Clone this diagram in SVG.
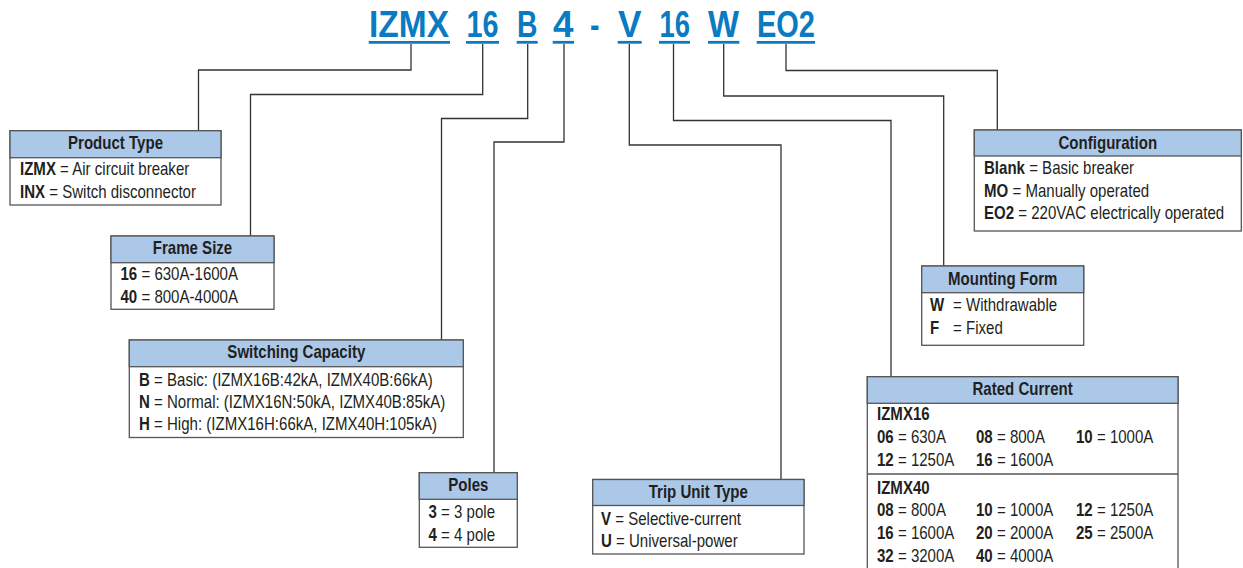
<svg xmlns="http://www.w3.org/2000/svg" width="1243" height="568" viewBox="0 0 1243 568">
<style>
.bg{fill:#ffffff}
.box{fill:#ffffff;stroke:#555555;stroke-width:1.3}
.hdr{fill:#abc8e8;stroke:#555555;stroke-width:1.3}
.div{stroke:#555555;stroke-width:1.3;fill:none}
.h{font-family:"Liberation Sans",Arial,sans-serif;font-size:17.5px;font-weight:bold;fill:#231f20}
.t{font-family:"Liberation Sans",Arial,sans-serif;font-size:17.5px;fill:#231f20}
.b{font-weight:bold}
.title{font-family:"Liberation Sans",Arial,sans-serif;font-size:37px;font-weight:bold;fill:#0a7bc2}
.ul{stroke:#0a7bc2;stroke-width:2.8}
.conn{fill:none;stroke:#333333;stroke-width:1.3}
</style>
<rect class="bg" x="0" y="0" width="1243" height="568"/>

<g id="title">
  <text class="title" x="369" y="37" textLength="80" lengthAdjust="spacingAndGlyphs">IZMX</text>
  <text class="title" x="466.5" y="37" textLength="32" lengthAdjust="spacingAndGlyphs">16</text>
  <text class="title" x="517" y="37" textLength="20.5" lengthAdjust="spacingAndGlyphs">B</text>
  <text class="title" x="553" y="37" textLength="20.5" lengthAdjust="spacingAndGlyphs">4</text>
  <text class="title" x="590" y="37" textLength="9.5" lengthAdjust="spacingAndGlyphs">-</text>
  <text class="title" x="618" y="37" textLength="23.5" lengthAdjust="spacingAndGlyphs">V</text>
  <text class="title" x="659.5" y="37" textLength="30.5" lengthAdjust="spacingAndGlyphs">16</text>
  <text class="title" x="708" y="37" textLength="31" lengthAdjust="spacingAndGlyphs">W</text>
  <text class="title" x="757" y="37" textLength="58" lengthAdjust="spacingAndGlyphs">EO2</text>
  <line class="ul" x1="368.7" y1="42.3" x2="450" y2="42.3"/>
  <line class="ul" x1="466" y1="42.3" x2="499" y2="42.3"/>
  <line class="ul" x1="516.7" y1="42.3" x2="537.7" y2="42.3"/>
  <line class="ul" x1="552.7" y1="42.3" x2="574" y2="42.3"/>
  <line class="ul" x1="617.7" y1="42.3" x2="641.7" y2="42.3"/>
  <line class="ul" x1="659" y1="42.3" x2="690" y2="42.3"/>
  <line class="ul" x1="708" y1="42.3" x2="739.3" y2="42.3"/>
  <line class="ul" x1="756.7" y1="42.3" x2="815" y2="42.3"/>
</g>

<g id="connectors">
  <path class="conn" d="M411,44 V70 H198.5 V130.7"/>
  <path class="conn" d="M482.7,44 V94.5 H250.5 V236"/>
  <path class="conn" d="M527.7,44 V118.5 H441.5 V340"/>
  <path class="conn" d="M564,44 V142 H494 V472.7"/>
  <path class="conn" d="M629.3,44 V145 H781 V479.5"/>
  <path class="conn" d="M673.5,44 V120.5 H891 V376.7"/>
  <path class="conn" d="M723.7,44 V96 H943.7 V266"/>
  <path class="conn" d="M786,44 V70.5 H997.3 V130"/>
</g>

<g id="product-type">
  <rect class="box" x="10" y="130.7" width="211" height="74.3"/>
  <rect class="hdr" x="10" y="130.7" width="211" height="27"/>
  <text class="h" text-anchor="middle" transform="translate(115.5,149.3) scale(0.86,1)">Product Type</text>
  <text class="t" transform="translate(20,175) scale(0.86,1)"><tspan class="b">IZMX</tspan> = Air circuit breaker</text>
  <text class="t" transform="translate(20,197.5) scale(0.86,1)"><tspan class="b">INX</tspan> = Switch disconnector</text>
</g>

<g id="frame-size">
  <rect class="box" x="111" y="236" width="163" height="73.3"/>
  <rect class="hdr" x="111" y="236" width="163" height="26.7"/>
  <text class="h" text-anchor="middle" transform="translate(192.5,253.5) scale(0.86,1)">Frame Size</text>
  <text class="t" transform="translate(120.5,280) scale(0.86,1)"><tspan class="b">16</tspan> = 630A-1600A</text>
  <text class="t" transform="translate(120.5,303) scale(0.86,1)"><tspan class="b">40</tspan> = 800A-4000A</text>
</g>

<g id="switching-capacity">
  <rect class="box" x="129.3" y="340" width="334" height="97.5"/>
  <rect class="hdr" x="129.3" y="340" width="334" height="26.7"/>
  <text class="h" text-anchor="middle" transform="translate(296.3,357.5) scale(0.86,1)">Switching Capacity</text>
  <text class="t" transform="translate(139,386) scale(0.86,1)"><tspan class="b">B</tspan> = Basic: (IZMX16B:42kA, IZMX40B:66kA)</text>
  <text class="t" transform="translate(139,408) scale(0.86,1)"><tspan class="b">N</tspan> = Normal: (IZMX16N:50kA, IZMX40B:85kA)</text>
  <text class="t" transform="translate(139,430) scale(0.86,1)"><tspan class="b">H</tspan> = High: (IZMX16H:66kA, IZMX40H:105kA)</text>
</g>

<g id="poles">
  <rect class="box" x="419.3" y="472.7" width="98" height="74.6"/>
  <rect class="hdr" x="419.3" y="472.7" width="98" height="26.6"/>
  <text class="h" text-anchor="middle" transform="translate(468.3,490.5) scale(0.86,1)">Poles</text>
  <text class="t" transform="translate(428.5,517.5) scale(0.86,1)"><tspan class="b">3</tspan> = 3 pole</text>
  <text class="t" transform="translate(428.5,540.5) scale(0.86,1)"><tspan class="b">4</tspan> = 4 pole</text>
</g>

<g id="trip-unit-type">
  <rect class="box" x="592.7" y="479.5" width="211.3" height="74.5"/>
  <rect class="hdr" x="592.7" y="479.5" width="211.3" height="26"/>
  <text class="h" text-anchor="middle" transform="translate(698.3,498) scale(0.86,1)">Trip Unit Type</text>
  <text class="t" transform="translate(601,524.5) scale(0.86,1)"><tspan class="b">V</tspan> = Selective-current</text>
  <text class="t" transform="translate(601,547) scale(0.86,1)"><tspan class="b">U</tspan> = Universal-power</text>
</g>

<g id="configuration">
  <rect class="box" x="974.3" y="130" width="267" height="101"/>
  <rect class="hdr" x="974.3" y="130" width="267" height="26"/>
  <text class="h" text-anchor="middle" transform="translate(1107.8,148.5) scale(0.86,1)">Configuration</text>
  <text class="t" transform="translate(984,174) scale(0.86,1)"><tspan class="b">Blank</tspan> = Basic breaker</text>
  <text class="t" transform="translate(984,196.5) scale(0.86,1)"><tspan class="b">MO</tspan> = Manually operated</text>
  <text class="t" transform="translate(984,219) scale(0.86,1)"><tspan class="b">EO2</tspan> = 220VAC electrically operated</text>
</g>

<g id="mounting-form">
  <rect class="box" x="921.7" y="266" width="162" height="79.3"/>
  <rect class="hdr" x="921.7" y="266" width="162" height="26.7"/>
  <text class="h" text-anchor="middle" transform="translate(1002.7,285) scale(0.86,1)">Mounting Form</text>
  <text class="t b" transform="translate(930,311) scale(0.86,1)">W</text>
  <text class="t" transform="translate(953,311) scale(0.86,1)">= Withdrawable</text>
  <text class="t b" transform="translate(930,334) scale(0.86,1)">F</text>
  <text class="t" transform="translate(953,334) scale(0.86,1)">= Fixed</text>
</g>

<g id="rated-current">
  <rect class="box" x="867.3" y="376.7" width="310.7" height="200"/>
  <rect class="hdr" x="867.3" y="376.7" width="310.7" height="26.6"/>
  <line class="div" x1="867.3" y1="474" x2="1178" y2="474"/>
  <text class="h" text-anchor="middle" transform="translate(1022.6,395) scale(0.86,1)">Rated Current</text>
  <text class="t b" transform="translate(877,419.5) scale(0.86,1)">IZMX16</text>
  <text class="t" transform="translate(877,442.5) scale(0.86,1)"><tspan class="b">06</tspan> = 630A</text>
  <text class="t" transform="translate(976,442.5) scale(0.86,1)"><tspan class="b">08</tspan> = 800A</text>
  <text class="t" transform="translate(1076,442.5) scale(0.86,1)"><tspan class="b">10</tspan> = 1000A</text>
  <text class="t" transform="translate(877,465.5) scale(0.86,1)"><tspan class="b">12</tspan> = 1250A</text>
  <text class="t" transform="translate(976,465.5) scale(0.86,1)"><tspan class="b">16</tspan> = 1600A</text>
  <text class="t b" transform="translate(877,494) scale(0.86,1)">IZMX40</text>
  <text class="t" transform="translate(877,515.5) scale(0.86,1)"><tspan class="b">08</tspan> = 800A</text>
  <text class="t" transform="translate(976,515.5) scale(0.86,1)"><tspan class="b">10</tspan> = 1000A</text>
  <text class="t" transform="translate(1076,515.5) scale(0.86,1)"><tspan class="b">12</tspan> = 1250A</text>
  <text class="t" transform="translate(877,538.5) scale(0.86,1)"><tspan class="b">16</tspan> = 1600A</text>
  <text class="t" transform="translate(976,538.5) scale(0.86,1)"><tspan class="b">20</tspan> = 2000A</text>
  <text class="t" transform="translate(1076,538.5) scale(0.86,1)"><tspan class="b">25</tspan> = 2500A</text>
  <text class="t" transform="translate(877,561.5) scale(0.86,1)"><tspan class="b">32</tspan> = 3200A</text>
  <text class="t" transform="translate(976,561.5) scale(0.86,1)"><tspan class="b">40</tspan> = 4000A</text>
</g>
</svg>
